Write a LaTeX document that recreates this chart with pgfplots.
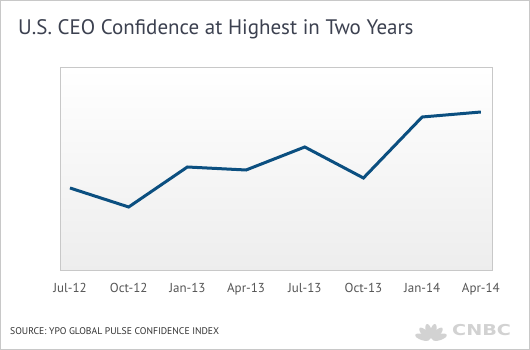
\documentclass[border=0pt]{standalone}
\usepackage{pgfplots}
\pgfplotsset{compat=1.18}
\usepackage{fontspec}
\setmainfont{PT Sans}
\newfontfamily\logofont{DejaVu Sans}
\definecolor{framec}{HTML}{C8C8C8}
\definecolor{linec}{HTML}{0B4F80}
\definecolor{titlec}{HTML}{3C4150}
\definecolor{tickc}{HTML}{555555}
\definecolor{srcc}{HTML}{333333}
\definecolor{logoc}{HTML}{D2D2D2}
\definecolor{bgbot}{HTML}{EDEDED}
\definecolor{bgmid}{HTML}{F9F9F9}
\begin{document}
\begin{tikzpicture}[x=1pt,y=1pt]
\draw[framec, line width=1pt, fill=white] (0.5,0.5) rectangle (529.5,349.5);
\node[anchor=base west, text=titlec, font=\fontsize{21}{25}\selectfont, inner sep=0] at (18,315) {U.S. CEO Confidence at Highest in Two Years};
\begin{axis}[
  at={(60pt,79pt)}, anchor=south west,
  width=432pt, height=203pt, scale only axis,
  xmin=-0.17, xmax=7.19, ymin=0, ymax=203,
  xtick={0,1,2,3,4,5,6,7},
  xticklabels={Jul-12,Oct-12,Jan-13,Apr-13,Jul-13,Oct-13,Jan-14,Apr-14},
  ytick=\empty,
  axis line style={framec, line width=1pt},
  major tick length=0pt,
  xticklabel style={text=tickc, font=\fontsize{13}{15}\selectfont, anchor=base, yshift=-22pt},
  axis background/.style={top color=white, middle color=bgmid, bottom color=bgbot},
]
\addplot[linec, line width=3pt, mark=none] coordinates {
  (0,83) (1,64) (2,104) (3,101) (4,124) (5,93) (6,154) (7,159)
};
\end{axis}
\node[anchor=base west, text=srcc, font=\fontsize{9.7}{11}\selectfont, inner sep=0] at (10,15) {SOURCE: YPO GLOBAL PULSE CONFIDENCE INDEX};
% CNBC logo
\foreach \a in {18,46.8,75.6,104.4,133.2,162} {
  \fill[logoc, rotate around={\a:(431,10)}] (440,10) ellipse (7.5 and 3);
}
\node[anchor=base west, text=logoc, inner sep=0] at (452,14) {\scalebox{1.28}[1]{\logofont\bfseries\fontsize{15}{16}\selectfont CNBC}};
\end{tikzpicture}
\end{document}
